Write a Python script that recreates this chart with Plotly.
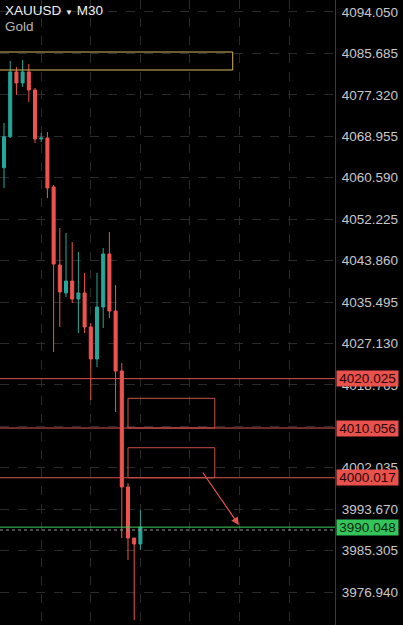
import plotly.graph_objects as go

# ---- data ----
bar_index = list(range(23))
opens  = [4062.61, 4068.87, 4081.94, 4079.72, 4081.94, 4078.30, 4068.41, 4068.61, 4058.72, 4042.97,
          4037.32, 4039.74, 4036.10, 4037.32, 4030.45, 4023.99, 4034.49, 4045.19, 4033.68, 4021.57,
          3998.15, 3987.85, 3986.64]
highs  = [4071.64, 4084.16, 4082.95, 4084.36, 4083.55, 4078.71, 4069.62, 4069.82, 4059.12, 4050.44,
          4049.43, 4047.61, 4045.59, 4041.35, 4031.26, 4041.35, 4046.40, 4049.63, 4038.93, 4023.18,
          3998.96, 3987.85, 3993.50]
lows   = [4058.52, 4068.61, 4077.29, 4078.91, 4075.88, 4067.60, 4067.80, 4056.50, 4025.40, 4030.45,
          4036.51, 4035.30, 4029.24, 4029.24, 4015.71, 4022.38, 4030.25, 4032.27, 4013.29, 3987.85,
          3983.41, 3971.29, 3985.43]
closes = [4068.87, 4081.94, 4079.72, 4081.94, 4078.30, 4068.41, 4068.61, 4058.52, 4043.17, 4037.52,
          4039.74, 4036.10, 4037.32, 4030.45, 4023.99, 4034.49, 4045.19, 4033.68, 4021.57, 3998.15,
          3987.85, 3986.64, 3990.05]

price_ticks = [4094.050, 4085.685, 4077.320, 4068.955, 4060.590, 4052.225, 4043.860, 4035.495,
               4027.130, 4018.765, 4010.400, 4002.035, 3993.670, 3985.305, 3976.940]
price_tick_labels = [f"{v:.3f}" for v in price_ticks]

time_grid = [6, 14, 22, 30, 38, 46]

red_levels = [4020.025, 4010.056, 4000.017]
current_price = 3990.048
ask_price = 3989.47

yellow_zone = dict(x0=-3, x1=36.9, y0=4082.34, y1=4085.97)
red_zones_x = [20.0, 34.0]
red_zones = [(4010.056, 4016.05), (4000.017, 4006.08)]
arrow_from = (31.9, 4001.38)
arrow_to = (37.9, 3990.47)

x_range = [-0.65, 53.4]
y_range = [3970.29, 4096.47]

# ---- styles ----
UP = "#26a69a"
DOWN = "#ef5350"
RED_LINE = "#e0534f"
BOX_RED = "#e8514c"
GREEN = "#3ecf5c"
GRID = "#2a2a2a"
TXT = "#c8c8c8"
FONT = "Liberation Sans, Arial, sans-serif"

fig = go.Figure()
fig.add_trace(go.Candlestick(
    x=bar_index, open=opens, high=highs, low=lows, close=closes,
    increasing=dict(line=dict(color=UP, width=1), fillcolor=UP),
    decreasing=dict(line=dict(color=DOWN, width=1), fillcolor=DOWN),
    whiskerwidth=0, hoverinfo="skip", showlegend=False,
))

shapes = []
for lv in red_levels:
    shapes.append(dict(type="line", xref="paper", x0=0, x1=1, yref="y", y0=lv, y1=lv,
                       line=dict(color=RED_LINE, width=1)))
shapes.append(dict(type="line", xref="paper", x0=0, x1=1, yref="y", y0=ask_price, y1=ask_price,
                   line=dict(color="#9a9a9a", width=1, dash="dot")))
shapes.append(dict(type="line", xref="paper", x0=0, x1=1, yref="y", y0=current_price, y1=current_price,
                   line=dict(color=GREEN, width=1)))
shapes.append(dict(type="rect", xref="x", yref="y", **yellow_zone,
                   line=dict(color="#d9b75e", width=1), fillcolor="rgba(0,0,0,0)"))
for (lo, hi) in red_zones:
    shapes.append(dict(type="rect", xref="x", yref="y", x0=red_zones_x[0], x1=red_zones_x[1],
                       y0=lo, y1=hi, line=dict(color="#c9504a", width=1),
                       fillcolor="rgba(0,0,0,0)"))

annotations = []
annotations.append(dict(
    x=arrow_to[0], y=arrow_to[1], ax=arrow_from[0], ay=arrow_from[1],
    xref="x", yref="y", axref="x", ayref="y", text="", showarrow=True,
    arrowhead=2, arrowsize=1.3, arrowwidth=1.2, arrowcolor=RED_LINE))

for lv in red_levels:
    annotations.append(dict(x=1, xref="paper", xanchor="left", xshift=1, y=lv, yref="y",
                            yanchor="middle", text=f"{lv:.3f}", showarrow=False,
                            bgcolor=BOX_RED, borderpad=0, width=61, height=15, align="center",
                            font=dict(family=FONT, size=13.5, color="#2a0806")))
annotations.append(dict(x=1, xref="paper", xanchor="left", xshift=1, y=current_price, yref="y",
                        yanchor="middle", text=f"{current_price:.3f}", showarrow=False,
                        bgcolor="#35c45a", borderpad=0, width=61, height=15, align="center",
                        font=dict(family=FONT, size=13.5, color="#0a2a10")))

annotations.append(dict(x=0, y=1, xref="paper", yref="paper", xanchor="left", yanchor="top",
                        xshift=3, yshift=-1, showarrow=False, align="left",
                        text="XAUUSD <span style='font-size:8px'>▼</span> M30",
                        font=dict(family=FONT, size=13.5, color="#f0f0f0")))
annotations.append(dict(x=0, y=1, xref="paper", yref="paper", xanchor="left", yanchor="top",
                        xshift=3, yshift=-17, showarrow=False, align="left",
                        text="Gold", font=dict(family=FONT, size=13.5, color="#b8b8b8")))

fig.update_layout(
    width=403, height=625,
    margin=dict(l=0, r=68, t=0, b=0),
    paper_bgcolor="#000000", plot_bgcolor="#000000",
    shapes=shapes, annotations=annotations,
    showlegend=False, hovermode=False,
    xaxis=dict(range=x_range, rangeslider=dict(visible=False), showticklabels=False,
               tickvals=time_grid, showgrid=True, gridcolor=GRID, griddash="dash",
               gridwidth=1, zeroline=False, showline=False, fixedrange=True),
    yaxis=dict(range=y_range, side="right", tickvals=price_ticks, ticktext=price_tick_labels,
               showgrid=True, gridcolor=GRID, griddash="dash", gridwidth=1, zeroline=False,
               showline=True, linecolor="#3a3a3a", linewidth=1, ticks="",
               ticklabelstandoff=3,
               tickfont=dict(family=FONT, size=13.5, color=TXT), fixedrange=True),
)

fig.write_html("out.html", config={"displayModeBar": False},
               post_script="document.body.style.margin='0';document.body.style.background='#000';")
